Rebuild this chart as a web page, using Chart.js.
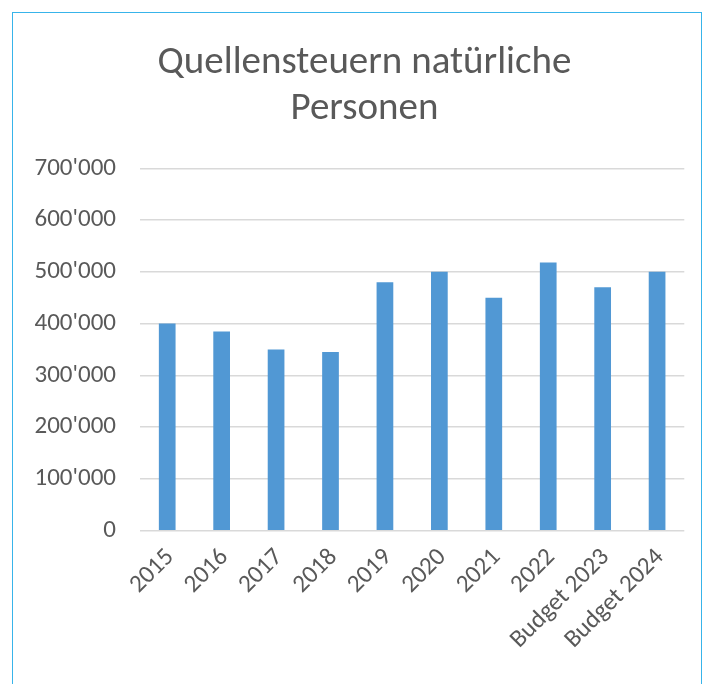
<!DOCTYPE html>
<html>
<head>
<meta charset="utf-8">
<script src="https://cdn.jsdelivr.net/npm/chart.js@4/dist/chart.umd.min.js"></script>
<style>
  html, body { margin: 0; padding: 0; background: #fff; }
  #wrap { position: relative; width: 707px; height: 684px; overflow: hidden; }
  #frame { position: absolute; left: 12px; top: 12px; width: 690px; height: 720px; border: 1.5px solid #38b4ea; box-sizing: border-box; }
  canvas { position: absolute; left: 0; top: 0; }
</style>
</head>
<body>
<div id="wrap">
  <div id="frame"></div>
  <canvas id="c" width="707" height="684"></canvas>
</div>
<script>
const titleLines = ["Quellensteuern natürliche", "Personen"];
const categories = ["2015", "2016", "2017", "2018", "2019", "2020", "2021", "2022", "Budget 2023", "Budget 2024"];
const values = [400000, 385000, 350000, 345000, 480000, 500000, 450000, 518000, 470000, 500000];
const yMin = 0, yMax = 700000, yStep = 100000;

const FONT = "Carlito, 'Open Sans', sans-serif";
const textColor = "#595959";
const TITLE_CENTER_X = 364.5;

function fmt(v) {
  return String(v).replace(/\B(?=(\d{3})+(?!\d))/g, "'");
}

const titleShift = {
  id: "titleShift",
  afterLayout(chart) {
    const t = chart.titleBlock;
    if (t) {
      const w = t.right - t.left;
      t.left = TITLE_CENTER_X - w / 2;
      t.right = TITLE_CENTER_X + w / 2;
    }
  }
};

new Chart(document.getElementById("c"), {
  type: "bar",
  data: {
    labels: categories,
    datasets: [{
      data: values,
      backgroundColor: "#5198d4",
      borderWidth: 0,
      barPercentage: 0.307,
      categoryPercentage: 1.0
    }]
  },
  plugins: [titleShift],
  options: {
    responsive: false,
    animation: false,
    devicePixelRatio: 1,
    layout: { padding: { left: 16, right: 22.7, top: 0, bottom: 0 } },
    plugins: {
      legend: { display: false },
      tooltip: { enabled: false },
      title: {
        display: true,
        text: titleLines,
        color: textColor,
        font: { family: FONT, size: 39, weight: "normal", lineHeight: "46px" },
        padding: { top: 40, bottom: 36.3 }
      }
    },
    scales: {
      x: {
        grid: { display: false, drawTicks: false },
        border: { display: false },
        ticks: {
          color: textColor,
          font: { family: FONT, size: 25 },
          maxRotation: 45,
          minRotation: 45,
          autoSkip: false,
          padding: 12,
          labelOffset: 3
        },
        afterFit: (s) => { s.height = 153.3; }
      },
      y: {
        min: yMin,
        max: yMax,
        grid: { color: "#d9d9d9", lineWidth: 1.5, drawTicks: false },
        border: { display: false },
        ticks: {
          stepSize: yStep,
          color: textColor,
          font: { family: FONT, size: 25 },
          padding: 24,
          callback: (v) => fmt(v)
        },
        afterFit: (s) => { s.width = 124; }
      }
    }
  }
});
</script>
</body>
</html>
